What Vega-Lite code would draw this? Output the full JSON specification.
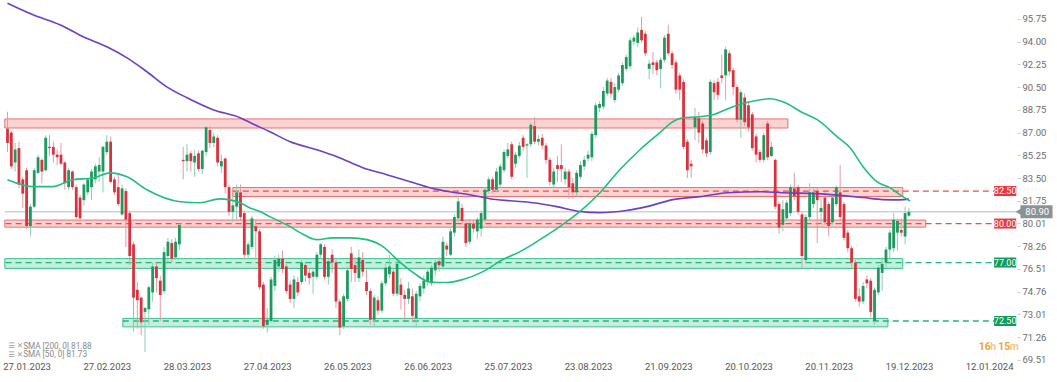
{
"$schema": "https://vega.github.io/schema/vega-lite/v6.json",
"width": 1017, "height": 360,
"autosize": {"type": "none"},
"padding": {"left": 0, "top": 0, "right": 40, "bottom": 22},
"background": "white",
"config": {"view": {"stroke": null}, "font": "Roboto", "scale": {"continuousPadding": 0}, "axis": {"grid": false, "domain": false, "title": null, "labelOverlap": false}},
"datasets": {
"candles": [
{"i":0,"o":87.3,"h":88.6,"l":85.5,"c":86.2},{"i":1,"o":87.0,"h":87.1,"l":84.2,"c":84.4},{"i":2,"o":84.7,"h":86.2,"l":84.0,"c":85.7},{"i":3,"o":85.8,"h":86.3,"l":82.7,"c":83.0},{"i":4,"o":83.4,"h":83.6,"l":81.2,"c":82.3},{"i":5,"o":84.1,"h":84.3,"l":79.6,"c":79.8},{"i":6,"o":79.8,"h":81.5,"l":79.0,"c":81.3},{"i":7,"o":81.3,"h":84.3,"l":81.2,"c":84.1},{"i":8,"o":83.9,"h":85.3,"l":83.8,"c":85.1},{"i":9,"o":84.9,"h":85.0,"l":83.1,"c":84.0},
{"i":10,"o":84.1,"h":86.8,"l":84.0,"c":86.6},{"i":11,"o":85.9,"h":86.8,"l":85.2,"c":85.8},{"i":12,"o":85.9,"h":86.3,"l":84.7,"c":85.3},{"i":13,"o":85.3,"h":85.7,"l":84.5,"c":85.1},{"i":14,"o":85.3,"h":86.2,"l":84.5,"c":84.6},{"i":15,"o":84.7,"h":84.8,"l":82.6,"c":83.1},{"i":16,"o":82.8,"h":84.3,"l":82.6,"c":84.1},{"i":17,"o":84.0,"h":84.1,"l":82.6,"c":82.8},{"i":18,"o":82.8,"h":83.0,"l":80.3,"c":80.5},{"i":19,"o":82.0,"h":82.2,"l":80.2,"c":80.4},
{"i":20,"o":81.8,"h":83.1,"l":81.4,"c":83.0},{"i":21,"o":82.4,"h":83.5,"l":82.2,"c":83.4},{"i":22,"o":82.8,"h":84.2,"l":81.8,"c":84.0},{"i":23,"o":83.4,"h":84.6,"l":83.1,"c":84.4},{"i":24,"o":84.0,"h":85.1,"l":83.2,"c":84.5},{"i":25,"o":84.0,"h":86.0,"l":82.4,"c":85.9},{"i":26,"o":85.5,"h":86.8,"l":85.3,"c":86.3},{"i":27,"o":86.3,"h":86.7,"l":83.1,"c":83.2},{"i":28,"o":83.4,"h":83.6,"l":82.2,"c":82.4},{"i":29,"o":82.8,"h":83.8,"l":81.3,"c":81.5},
{"i":30,"o":80.7,"h":83.0,"l":80.6,"c":82.7},{"i":31,"o":82.5,"h":82.7,"l":78.2,"c":80.3},{"i":32,"o":80.8,"h":81.0,"l":76.8,"c":77.5},{"i":33,"o":78.4,"h":78.6,"l":71.7,"c":74.3},{"i":34,"o":74.9,"h":75.5,"l":71.9,"c":74.1},{"i":35,"o":74.3,"h":74.4,"l":71.4,"c":72.4},{"i":36,"o":73.2,"h":73.6,"l":70.1,"c":73.5},{"i":37,"o":73.4,"h":75.2,"l":72.2,"c":75.1},{"i":38,"o":74.7,"h":77.0,"l":74.0,"c":76.7},{"i":39,"o":76.7,"h":77.0,"l":74.7,"c":75.8},
{"i":40,"o":75.6,"h":76.0,"l":72.5,"c":74.5},{"i":41,"o":74.8,"h":78.2,"l":74.6,"c":77.8},{"i":42,"o":77.5,"h":78.9,"l":77.0,"c":78.6},{"i":43,"o":78.5,"h":78.8,"l":77.0,"c":77.3},{"i":44,"o":77.4,"h":78.9,"l":77.2,"c":78.6},{"i":45,"o":78.4,"h":80.0,"l":78.0,"c":79.9},{"i":46,"o":84.9,"h":85.9,"l":83.4,"c":84.8},{"i":47,"o":84.8,"h":86.1,"l":84.0,"c":85.3},{"i":48,"o":85.4,"h":85.6,"l":84.0,"c":84.8},{"i":49,"o":84.7,"h":85.7,"l":83.6,"c":85.2},
{"i":50,"o":85.4,"h":85.6,"l":84.0,"c":84.2},{"i":51,"o":84.2,"h":85.7,"l":83.8,"c":85.6},{"i":52,"o":85.5,"h":87.5,"l":85.2,"c":87.4},{"i":53,"o":87.2,"h":87.5,"l":85.8,"c":86.2},{"i":54,"o":86.2,"h":87.0,"l":85.9,"c":86.7},{"i":55,"o":86.6,"h":86.8,"l":84.4,"c":84.7},{"i":56,"o":84.4,"h":85.3,"l":83.9,"c":84.8},{"i":57,"o":85.0,"h":85.1,"l":82.3,"c":82.8},{"i":58,"o":82.8,"h":83.0,"l":80.6,"c":80.9},{"i":59,"o":80.9,"h":82.4,"l":80.1,"c":81.4},
{"i":60,"o":81.3,"h":83.0,"l":80.3,"c":82.4},{"i":61,"o":82.4,"h":83.0,"l":80.2,"c":80.5},{"i":62,"o":80.8,"h":81.0,"l":77.3,"c":77.6},{"i":63,"o":77.6,"h":78.6,"l":77.3,"c":78.4},{"i":64,"o":78.2,"h":80.6,"l":78.0,"c":80.4},{"i":65,"o":79.8,"h":80.3,"l":77.3,"c":79.4},{"i":66,"o":79.4,"h":79.6,"l":74.9,"c":75.1},{"i":67,"o":75.3,"h":75.5,"l":71.9,"c":72.1},{"i":68,"o":72.2,"h":73.5,"l":71.6,"c":72.6},{"i":69,"o":72.5,"h":75.9,"l":72.4,"c":75.7},
{"i":70,"o":75.2,"h":77.5,"l":74.8,"c":77.2},{"i":71,"o":76.7,"h":77.6,"l":76.3,"c":77.3},{"i":72,"o":77.3,"h":77.9,"l":76.2,"c":76.5},{"i":73,"o":76.7,"h":76.9,"l":74.6,"c":74.8},{"i":74,"o":75.3,"h":75.6,"l":73.9,"c":74.2},{"i":75,"o":74.2,"h":76.0,"l":73.5,"c":75.7},{"i":76,"o":75.5,"h":75.9,"l":74.4,"c":74.7},{"i":77,"o":75.5,"h":77.2,"l":75.3,"c":77.0},{"i":78,"o":76.8,"h":77.1,"l":75.5,"c":76.0},{"i":79,"o":76.2,"h":76.5,"l":75.3,"c":75.8},
{"i":80,"o":75.9,"h":76.5,"l":74.6,"c":76.3},{"i":81,"o":75.9,"h":77.8,"l":75.7,"c":77.6},{"i":82,"o":77.6,"h":78.5,"l":77.3,"c":78.4},{"i":83,"o":78.2,"h":78.4,"l":75.7,"c":75.9},{"i":84,"o":75.9,"h":77.3,"l":75.3,"c":77.1},{"i":85,"o":77.6,"h":78.0,"l":76.2,"c":77.0},{"i":86,"o":77.0,"h":77.2,"l":73.5,"c":74.0},{"i":87,"o":74.0,"h":74.2,"l":71.4,"c":72.0},{"i":88,"o":72.1,"h":74.6,"l":71.9,"c":74.4},{"i":89,"o":74.2,"h":76.7,"l":74.0,"c":76.4},
{"i":90,"o":77.7,"h":78.2,"l":75.5,"c":76.5},{"i":91,"o":76.8,"h":77.4,"l":75.5,"c":76.2},{"i":92,"o":75.8,"h":78.0,"l":75.5,"c":77.4},{"i":93,"o":77.2,"h":77.8,"l":75.9,"c":76.3},{"i":94,"o":75.5,"h":76.5,"l":74.5,"c":74.8},{"i":95,"o":74.8,"h":75.0,"l":72.2,"c":72.6},{"i":96,"o":72.6,"h":74.5,"l":72.0,"c":74.3},{"i":97,"o":74.1,"h":74.4,"l":73.0,"c":73.3},{"i":98,"o":73.3,"h":75.6,"l":73.1,"c":75.4},{"i":99,"o":75.4,"h":76.9,"l":75.2,"c":76.6},
{"i":100,"o":76.1,"h":77.6,"l":75.8,"c":76.7},{"i":101,"o":76.3,"h":76.5,"l":74.4,"c":74.6},{"i":102,"o":74.6,"h":77.1,"l":74.4,"c":76.9},{"i":103,"o":75.3,"h":75.8,"l":73.4,"c":74.5},{"i":104,"o":74.5,"h":74.9,"l":72.6,"c":74.2},{"i":105,"o":74.2,"h":75.5,"l":73.8,"c":75.0},{"i":106,"o":74.4,"h":75.0,"l":72.4,"c":72.9},{"i":107,"o":72.7,"h":74.8,"l":72.0,"c":74.6},{"i":108,"o":74.4,"h":75.4,"l":74.0,"c":75.2},{"i":109,"o":75.0,"h":76.0,"l":74.6,"c":75.6},
{"i":110,"o":75.5,"h":76.6,"l":75.2,"c":76.3},{"i":111,"o":75.4,"h":76.8,"l":75.2,"c":76.6},{"i":112,"o":76.4,"h":77.2,"l":76.0,"c":77.0},{"i":113,"o":77.1,"h":77.4,"l":76.3,"c":76.8},{"i":114,"o":76.7,"h":79.0,"l":76.4,"c":78.6},{"i":115,"o":78.3,"h":78.5,"l":77.5,"c":78.0},{"i":116,"o":77.6,"h":79.6,"l":77.5,"c":79.4},{"i":117,"o":79.3,"h":80.7,"l":79.0,"c":80.5},{"i":118,"o":80.4,"h":82.2,"l":80.1,"c":81.7},{"i":119,"o":81.2,"h":81.5,"l":79.9,"c":80.2},
{"i":120,"o":80.0,"h":80.2,"l":78.2,"c":78.5},{"i":121,"o":78.6,"h":80.3,"l":78.4,"c":80.0},{"i":122,"o":80.0,"h":80.3,"l":79.3,"c":79.6},{"i":123,"o":79.4,"h":80.5,"l":78.8,"c":80.3},{"i":124,"o":79.6,"h":81.0,"l":79.0,"c":80.8},{"i":125,"o":80.3,"h":82.8,"l":80.1,"c":82.6},{"i":126,"o":82.5,"h":83.6,"l":82.3,"c":83.4},{"i":127,"o":83.4,"h":83.6,"l":82.3,"c":82.6},{"i":128,"o":82.6,"h":84.3,"l":82.4,"c":84.0},{"i":129,"o":83.0,"h":84.6,"l":82.8,"c":84.4},
{"i":130,"o":84.1,"h":85.7,"l":83.9,"c":85.5},{"i":131,"o":85.2,"h":86.2,"l":85.0,"c":85.7},{"i":132,"o":86.1,"h":86.3,"l":83.4,"c":83.6},{"i":133,"o":84.6,"h":85.5,"l":84.3,"c":85.3},{"i":134,"o":85.2,"h":86.3,"l":85.0,"c":86.0},{"i":135,"o":86.6,"h":86.8,"l":85.6,"c":85.9},{"i":136,"o":86.0,"h":86.2,"l":83.5,"c":86.1},{"i":137,"o":86.1,"h":87.8,"l":85.9,"c":87.6},{"i":138,"o":87.5,"h":88.2,"l":86.1,"c":86.3},{"i":139,"o":86.3,"h":86.8,"l":86.0,"c":86.5},
{"i":140,"o":86.6,"h":86.9,"l":85.7,"c":86.0},{"i":141,"o":86.0,"h":86.2,"l":84.6,"c":84.9},{"i":142,"o":84.9,"h":85.1,"l":82.9,"c":83.2},{"i":143,"o":83.0,"h":84.3,"l":82.8,"c":84.0},{"i":144,"o":84.5,"h":85.2,"l":83.2,"c":84.2},{"i":145,"o":84.5,"h":86.1,"l":83.2,"c":84.2},{"i":146,"o":83.4,"h":84.3,"l":83.0,"c":84.0},{"i":147,"o":84.0,"h":84.2,"l":81.9,"c":82.8},{"i":148,"o":83.1,"h":83.5,"l":81.9,"c":82.4},{"i":149,"o":82.4,"h":84.1,"l":82.1,"c":83.9},
{"i":150,"o":83.6,"h":84.8,"l":83.4,"c":84.5},{"i":151,"o":84.4,"h":85.2,"l":84.1,"c":84.9},{"i":152,"o":85.0,"h":85.6,"l":84.8,"c":85.3},{"i":153,"o":85.1,"h":87.1,"l":84.8,"c":86.9},{"i":154,"o":86.8,"h":89.3,"l":86.6,"c":89.1},{"i":155,"o":88.9,"h":89.4,"l":88.6,"c":89.2},{"i":156,"o":89.0,"h":90.5,"l":88.8,"c":90.2},{"i":157,"o":90.0,"h":91.2,"l":89.8,"c":91.0},{"i":158,"o":90.9,"h":91.2,"l":89.7,"c":90.0},{"i":159,"o":89.5,"h":90.8,"l":89.3,"c":90.5},
{"i":160,"o":90.3,"h":91.6,"l":90.1,"c":91.4},{"i":161,"o":90.8,"h":92.4,"l":90.6,"c":92.2},{"i":162,"o":91.9,"h":93.0,"l":91.7,"c":92.8},{"i":163,"o":92.1,"h":94.3,"l":91.9,"c":94.1},{"i":164,"o":94.0,"h":94.5,"l":93.7,"c":94.3},{"i":165,"o":93.9,"h":95.1,"l":93.6,"c":94.7},{"i":166,"o":94.9,"h":95.9,"l":93.9,"c":94.1},{"i":167,"o":94.6,"h":94.8,"l":92.9,"c":93.1},{"i":168,"o":91.9,"h":92.6,"l":91.1,"c":92.3},{"i":169,"o":92.4,"h":93.2,"l":91.5,"c":92.2},
{"i":170,"o":92.4,"h":92.6,"l":91.4,"c":91.8},{"i":171,"o":91.9,"h":92.8,"l":90.4,"c":92.6},{"i":172,"o":92.6,"h":94.5,"l":92.4,"c":94.3},{"i":173,"o":94.6,"h":95.3,"l":92.9,"c":93.1},{"i":174,"o":93.1,"h":93.3,"l":91.9,"c":92.2},{"i":175,"o":92.4,"h":92.6,"l":90.0,"c":90.3},{"i":176,"o":91.4,"h":91.6,"l":89.5,"c":90.3},{"i":177,"o":90.9,"h":91.1,"l":85.7,"c":85.9},{"i":178,"o":86.3,"h":86.5,"l":83.5,"c":84.1},{"i":179,"o":84.6,"h":84.9,"l":83.5,"c":84.4},
{"i":180,"o":87.4,"h":88.9,"l":86.4,"c":88.2},{"i":181,"o":88.1,"h":88.6,"l":86.2,"c":87.0},{"i":182,"o":87.7,"h":87.9,"l":85.4,"c":85.7},{"i":183,"o":86.4,"h":86.6,"l":85.1,"c":85.4},{"i":184,"o":85.5,"h":91.1,"l":85.3,"c":90.9},{"i":185,"o":90.8,"h":91.0,"l":89.5,"c":90.1},{"i":186,"o":90.9,"h":91.2,"l":89.5,"c":89.9},{"i":187,"o":91.4,"h":93.0,"l":90.8,"c":91.2},{"i":188,"o":91.4,"h":93.6,"l":89.5,"c":93.4},{"i":189,"o":93.1,"h":93.3,"l":91.4,"c":91.7},
{"i":190,"o":91.8,"h":92.0,"l":89.9,"c":90.5},{"i":191,"o":90.5,"h":90.7,"l":87.8,"c":88.0},{"i":192,"o":88.0,"h":90.3,"l":86.6,"c":90.1},{"i":193,"o":89.7,"h":90.0,"l":87.5,"c":87.8},{"i":194,"o":89.1,"h":89.3,"l":87.1,"c":87.4},{"i":195,"o":88.4,"h":88.6,"l":85.6,"c":85.8},{"i":196,"o":86.7,"h":86.9,"l":84.7,"c":85.3},{"i":197,"o":85.5,"h":85.7,"l":84.7,"c":84.9},{"i":198,"o":84.9,"h":87.0,"l":84.7,"c":86.8},{"i":199,"o":87.7,"h":87.9,"l":84.9,"c":85.1},
{"i":200,"o":85.2,"h":86.3,"l":85.1,"c":85.9},{"i":201,"o":84.9,"h":85.0,"l":81.1,"c":81.3},{"i":202,"o":81.5,"h":81.7,"l":79.2,"c":79.7},{"i":203,"o":79.9,"h":81.8,"l":79.4,"c":81.1},{"i":204,"o":80.4,"h":81.8,"l":80.2,"c":81.6},{"i":205,"o":80.8,"h":83.0,"l":80.6,"c":82.8},{"i":206,"o":82.7,"h":83.9,"l":81.8,"c":82.1},{"i":207,"o":82.8,"h":83.0,"l":80.7,"c":80.9},{"i":208,"o":80.7,"h":80.9,"l":76.6,"c":77.5},{"i":209,"o":77.2,"h":80.7,"l":77.0,"c":80.5},
{"i":210,"o":80.5,"h":83.1,"l":80.3,"c":82.4},{"i":211,"o":81.5,"h":82.7,"l":81.2,"c":82.4},{"i":212,"o":82.5,"h":82.8,"l":78.5,"c":81.8},{"i":213,"o":80.9,"h":82.0,"l":80.0,"c":81.2},{"i":214,"o":82.0,"h":82.4,"l":79.9,"c":80.1},{"i":215,"o":81.5,"h":81.7,"l":79.0,"c":79.8},{"i":216,"o":80.1,"h":82.2,"l":79.9,"c":82.0},{"i":217,"o":81.5,"h":82.9,"l":81.3,"c":82.8},{"i":218,"o":82.4,"h":84.5,"l":80.2,"c":80.5},{"i":219,"o":81.5,"h":81.7,"l":78.7,"c":78.9},
{"i":220,"o":79.3,"h":79.5,"l":77.8,"c":78.1},{"i":221,"o":78.1,"h":78.3,"l":76.6,"c":77.0},{"i":222,"o":77.0,"h":77.2,"l":74.0,"c":74.2},{"i":223,"o":74.4,"h":75.0,"l":73.6,"c":74.0},{"i":224,"o":74.0,"h":75.5,"l":73.8,"c":75.2},{"i":225,"o":75.7,"h":76.0,"l":75.0,"c":75.4},{"i":226,"o":75.6,"h":75.8,"l":72.8,"c":73.2},{"i":227,"o":72.5,"h":75.1,"l":72.2,"c":74.9},{"i":228,"o":74.7,"h":76.8,"l":74.5,"c":76.6},{"i":229,"o":76.2,"h":77.4,"l":74.8,"c":76.9},
{"i":230,"o":77.0,"h":78.2,"l":76.6,"c":78.0},{"i":231,"o":78.0,"h":79.5,"l":77.3,"c":79.3},{"i":232,"o":78.1,"h":80.8,"l":77.8,"c":80.3},{"i":233,"o":79.3,"h":80.4,"l":77.9,"c":80.2},{"i":234,"o":79.5,"h":80.4,"l":79.0,"c":79.3},{"i":235,"o":79.0,"h":81.3,"l":78.4,"c":80.8},{"i":236,"o":80.6,"h":81.2,"l":80.5,"c":80.9}
],
"sma": [
{"s":"200","i":0,"v":96.95},{"s":"200","i":6.7,"v":96.06},{"s":"200","i":13.7,"v":95.3},{"s":"200","i":19.8,"v":94.37},{"s":"200","i":26,"v":93.6},{"s":"200","i":31.3,"v":92.75},{"s":"200","i":36.5,"v":91.68},{"s":"200","i":41.8,"v":90.5},{"s":"200","i":47,"v":89.68},{"s":"200","i":53.8,"v":88.76},{"s":"200","i":60.9,"v":88.14},{"s":"200","i":64,"v":87.7},{"s":"200","i":68.7,"v":87.06},{"s":"200","i":74,"v":86.3},{"s":"200","i":81,"v":85.68},{"s":"200","i":86.3,"v":85.14},{"s":"200","i":93,"v":84.3},{"s":"200","i":99.3,"v":83.76},{"s":"200","i":105.4,"v":83.22},{"s":"200","i":110.6,"v":82.76},{"s":"200","i":115.8,"v":82.45},{"s":"200","i":121,"v":82.22},{"s":"200","i":126.3,"v":81.91},{"s":"200","i":131.5,"v":81.75},{"s":"200","i":137.6,"v":81.6},{"s":"200","i":143.8,"v":81.3},{"s":"200","i":149.9,"v":80.93},{"s":"200","i":155,"v":80.84},{"s":"200","i":162,"v":81.0},{"s":"200","i":167.4,"v":81.3},{"s":"200","i":174.2,"v":81.84},{"s":"200","i":181.3,"v":82.07},{"s":"200","i":188.4,"v":82.37},{"s":"200","i":197,"v":82.45},{"s":"200","i":203,"v":82.37},{"s":"200","i":212,"v":82.3},{"s":"200","i":218.7,"v":82.15},{"s":"200","i":224,"v":82.0},{"s":"200","i":229.2,"v":81.84},{"s":"200","i":233.6,"v":81.82},{"s":"200","i":236,"v":81.88},
{"s":"50","i":0,"v":83.37},{"s":"50","i":6.7,"v":82.84},{"s":"50","i":11.9,"v":82.84},{"s":"50","i":17.1,"v":83.37},{"s":"50","i":22.4,"v":83.5},{"s":"50","i":26.8,"v":83.9},{"s":"50","i":31.3,"v":83.6},{"s":"50","i":36.5,"v":82.6},{"s":"50","i":45.2,"v":81.68},{"s":"50","i":50.4,"v":81.6},{"s":"50","i":55.6,"v":81.9},{"s":"50","i":60.9,"v":81.6},{"s":"50","i":63.5,"v":81.2},{"s":"50","i":66.1,"v":80.93},{"s":"50","i":68.7,"v":80.53},{"s":"50","i":74,"v":79.76},{"s":"50","i":76.6,"v":79.3},{"s":"50","i":81,"v":78.76},{"s":"50","i":85.2,"v":78.9},{"s":"50","i":89.7,"v":78.9},{"s":"50","i":94.1,"v":78.76},{"s":"50","i":98.3,"v":78.23},{"s":"50","i":102,"v":77.23},{"s":"50","i":106.2,"v":76.23},{"s":"50","i":110.6,"v":75.5},{"s":"50","i":115,"v":75.46},{"s":"50","i":119.2,"v":75.69},{"s":"50","i":124.5,"v":76.3},{"s":"50","i":129.7,"v":77.23},{"s":"50","i":134.2,"v":77.84},{"s":"50","i":139.4,"v":78.76},{"s":"50","i":144.6,"v":79.76},{"s":"50","i":149.9,"v":80.93},{"s":"50","i":155.1,"v":82.37},{"s":"50","i":160.3,"v":84.14},{"s":"50","i":165.6,"v":85.68},{"s":"50","i":170.8,"v":86.99},{"s":"50","i":174.2,"v":87.83},{"s":"50","i":176.8,"v":88.14},{"s":"50","i":181.3,"v":88.22},{"s":"50","i":184.7,"v":88.37},{"s":"50","i":189.9,"v":88.99},{"s":"50","i":194.4,"v":89.37},{"s":"50","i":199.6,"v":89.6},{"s":"50","i":203,"v":89.37},{"s":"50","i":208.2,"v":88.53},{"s":"50","i":212,"v":87.99},{"s":"50","i":217.2,"v":86.68},{"s":"50","i":220.6,"v":85.83},{"s":"50","i":224,"v":84.37},{"s":"50","i":227.6,"v":83.22},{"s":"50","i":231,"v":82.76},{"s":"50","i":233.6,"v":82.22},{"s":"50","i":236.3,"v":81.73}
],
"zones": [
{"a":-0.7,"b":204.3,"lo":87.35,"hi":88.05,"k":"r"},
{"a":59,"b":234.4,"lo":82.08,"hi":82.77,"k":"r"},
{"a":-0.7,"b":240.4,"lo":79.72,"hi":80.27,"k":"r"},
{"a":-0.7,"b":234.4,"lo":76.55,"hi":77.3,"k":"g"},
{"a":30.2,"b":230.5,"lo":72.05,"hi":72.7,"k":"g"}
],
"levels": [
{"a":59,"b":258.3,"v":82.5,"t":"82.50","k":"r"},
{"a":-0.5,"b":258.3,"v":80.0,"t":"80.00","k":"r"},
{"a":-0.5,"b":258.3,"v":77.0,"t":"77.00","k":"g"},
{"a":30.2,"b":258.3,"v":72.5,"t":"72.50","k":"g"}
],
"legend": [
{"i":4.1,"v":70.52,"t":"SMA [200,  0] 81.88"},
{"i":4.1,"v":69.87,"t":"SMA [50,  0] 81.73"}
],
"icons": [
{"i":0.2,"v":70.55,"t":"☰"},{"i":2.4,"v":70.55,"t":"✕"},
{"i":0.2,"v":69.9,"t":"☰"},{"i":2.4,"v":69.9,"t":"✕"}
],
"timer": [
{"i":254.3,"v":70.49,"t":"16","k":"n"},{"i":257.3,"v":70.49,"t":"h","k":"u"},{"i":259.4,"v":70.49,"t":"15","k":"n"},{"i":262.4,"v":70.49,"t":"m","k":"u"}
]
},
"layer": [
{
"data": {"name": "zones"},
"mark": {"type": "rect", "strokeWidth": 1},
"encoding": {
"x": {"field": "a", "type": "quantitative", "title": null, "scale": {"domain": [-1.963, 264.3], "nice": false, "zero": false, "padding": 0},
 "axis": {"values": [5,26,47,68,89,110,131,152,173,194,215,236,257], "tickCount": 30, "title": null, "grid": false, "domain": false, "ticks": false, "labelPadding": 1, "labelFontSize": 9.5, "labelColor": "#555", "labelFont": "Roboto", "labelOverlap": false,
 "labelExpr": "datum.value==5?'27.01.2023':datum.value==26?'27.02.2023':datum.value==47?'28.03.2023':datum.value==68?'27.04.2023':datum.value==89?'26.05.2023':datum.value==110?'26.06.2023':datum.value==131?'25.07.2023':datum.value==152?'23.08.2023':datum.value==173?'21.09.2023':datum.value==194?'20.10.2023':datum.value==215?'20.11.2023':datum.value==236?'19.12.2023':'12.01.2024'"}},
"x2": {"field": "b"},
"y": {"field": "lo", "type": "quantitative", "title": null, "scale": {"domain": [69.5, 97.2], "nice": false, "zero": false, "padding": 0},
 "axis": {"orient": "right", "values": [69.51,71.26,73.01,74.76,76.51,78.26,80.01,81.75,83.5,85.25,87,88.75,90.5,92.25,94,95.75], "tickCount": 30, "format": ".2f", "title": null, "grid": false, "domain": false, "ticks": true, "tickSize": 3, "tickColor": "#cccccc", "labelPadding": 2, "labelFontSize": 9.5, "labelColor": "#6d6d6d", "labelFont": "Roboto", "labelOverlap": false, "labelBound": false, "labelFlush": false}},
"y2": {"field": "hi"},
"fill": {"condition": {"test": "datum.k=='r'", "value": "#fbd3d3"}, "value": "#c6eedd"},
"stroke": {"condition": {"test": "datum.k=='r'", "value": "#ef6f6f"}, "value": "#3dbf8c"}
}
},
{
"data": {"name": "levels"},
"mark": {"type": "rule", "strokeWidth": 1.3, "strokeDash": [6, 4]},
"encoding": {
"x": {"field": "a", "type": "quantitative", "title": null},
"x2": {"field": "b"},
"y": {"field": "v", "type": "quantitative", "title": null},
"color": {"condition": {"test": "datum.k=='r'", "value": "#ee4c4c"}, "value": "#22b57e"}
}
},
{
"data": {"values": [{"v": 80.9}]},
"mark": {"type": "rule", "strokeWidth": 1, "color": "#b9b9b9"},
"encoding": {
"x": {"datum": -0.7, "type": "quantitative", "title": null},
"x2": {"datum": 264.3},
"y": {"field": "v", "type": "quantitative", "title": null}
}
},
{
"data": {"name": "candles"},
"mark": {"type": "rule", "strokeWidth": 1},
"encoding": {
"x": {"field": "i", "type": "quantitative", "title": null},
"y": {"field": "l", "type": "quantitative", "title": null},
"y2": {"field": "h"},
"color": {"condition": {"test": "datum.c >= datum.o", "value": "#8fcdb0"}, "value": "#e59aa3"}
}
},
{
"data": {"name": "candles"},
"mark": {"type": "bar", "size": 2.8},
"encoding": {
"x": {"field": "i", "type": "quantitative", "title": null},
"y": {"field": "o", "type": "quantitative", "title": null},
"y2": {"field": "c"},
"color": {"condition": {"test": "datum.c >= datum.o", "value": "#1d9a5f"}, "value": "#d8323e"}
}
},
{
"data": {"name": "sma"},
"mark": {"type": "line", "strokeWidth": 1.6, "interpolate": "monotone"},
"encoding": {
"x": {"field": "i", "type": "quantitative", "title": null},
"y": {"field": "v", "type": "quantitative", "title": null},
"detail": {"field": "s"},
"color": {"condition": {"test": "datum.s=='200'", "value": "#6b3fc6"}, "value": "#1fbf80"}
}
},
{
"data": {"name": "levels"},
"mark": {"type": "bar", "size": 10},
"encoding": {
"x": {"datum": 258.3, "type": "quantitative", "title": null},
"x2": {"datum": 264.1},
"y": {"field": "v", "type": "quantitative", "title": null},
"color": {"condition": {"test": "datum.k=='r'", "value": "#e5393f"}, "value": "#109a5c"}
}
},
{
"data": {"name": "levels"},
"mark": {"type": "text", "color": "white", "fontSize": 9, "font": "Roboto", "align": "center", "baseline": "middle"},
"encoding": {
"x": {"datum": 261.2, "type": "quantitative", "title": null},
"y": {"field": "v", "type": "quantitative", "title": null},
"text": {"field": "t"}
}
},
{
"data": {"values": [{"v": 80.9, "t": "80.90"}]},
"mark": {"type": "bar", "size": 13, "color": "#8b9295"},
"encoding": {
"x": {"datum": 265.2, "type": "quantitative", "title": null},
"x2": {"datum": 273.6},
"y": {"field": "v", "type": "quantitative", "title": null}
}
},
{
"data": {"values": [{"v": 80.9}]},
"mark": {"type": "point", "shape": "triangle-left", "filled": true, "size": 90, "color": "#8b9295", "opacity": 1},
"encoding": {
"x": {"datum": 265.0, "type": "quantitative", "title": null},
"y": {"field": "v", "type": "quantitative", "title": null}
}
},
{
"data": {"values": [{"v": 80.9, "t": "80.90"}]},
"mark": {"type": "text", "color": "white", "fontSize": 9.5, "font": "Roboto", "align": "center", "baseline": "middle"},
"encoding": {
"x": {"datum": 269.6, "type": "quantitative", "title": null},
"y": {"field": "v", "type": "quantitative", "title": null},
"text": {"field": "t"}
}
},
{
"data": {"name": "legend"},
"mark": {"type": "text", "color": "#8a8a8a", "fontSize": 8.2, "font": "Roboto", "align": "left", "baseline": "middle"},
"encoding": {
"x": {"field": "i", "type": "quantitative", "title": null},
"y": {"field": "v", "type": "quantitative", "title": null},
"text": {"field": "t"}
}
},
{
"data": {"name": "icons"},
"mark": {"type": "text", "color": "#9a9a9a", "fontSize": 7.5, "font": "DejaVu Sans", "align": "left", "baseline": "middle"},
"encoding": {
"x": {"field": "i", "type": "quantitative", "title": null},
"y": {"field": "v", "type": "quantitative", "title": null},
"text": {"field": "t"}
}
},
{
"data": {"name": "timer"},
"mark": {"type": "text", "fontSize": 10.5, "font": "Roboto", "fontWeight": "bold", "align": "left", "baseline": "middle"},
"encoding": {
"x": {"field": "i", "type": "quantitative", "title": null},
"y": {"field": "v", "type": "quantitative", "title": null},
"text": {"field": "t"},
"color": {"condition": {"test": "datum.k=='n'", "value": "#f2a233"}, "value": "#f6c58a"}
}
}
]
}
